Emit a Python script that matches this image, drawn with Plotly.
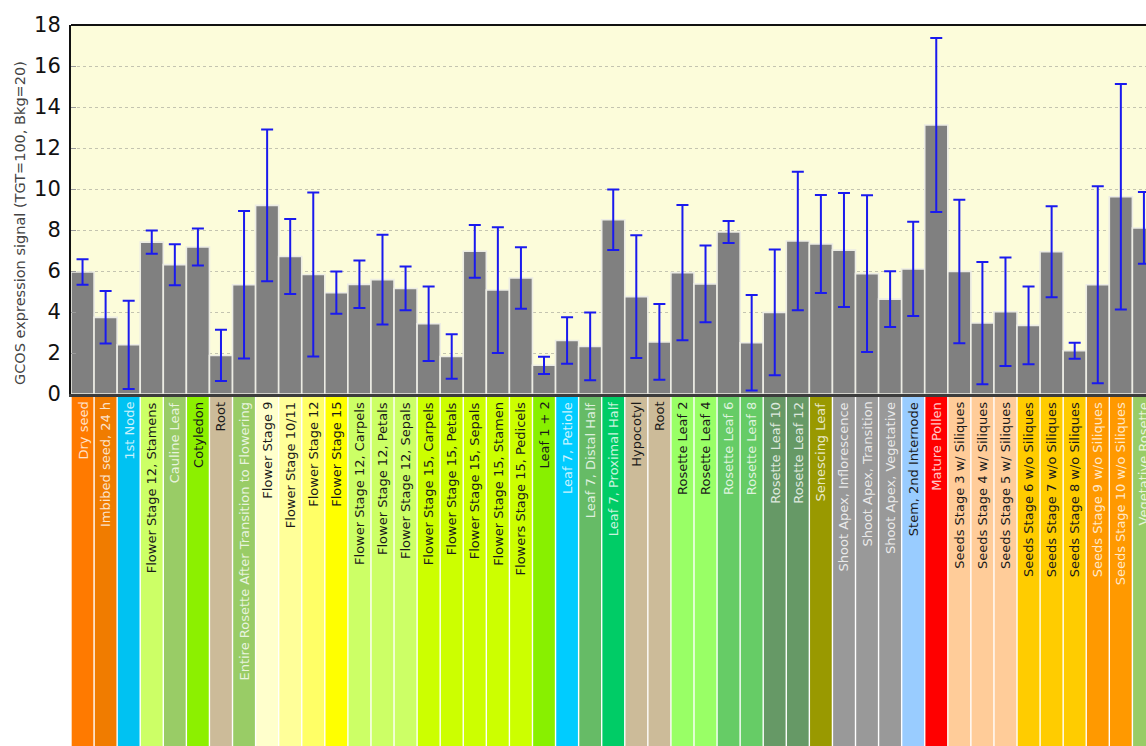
import plotly.graph_objects as go

categories = [
    "Dry seed", "Imbibed seed, 24 h", "1st Node", "Flower Stage 12, Stamens",
    "Cauline Leaf", "Cotyledon", "Root", "Entire Rosette After Transition to Flowering",
    "Flower Stage 9", "Flower Stage 10/11", "Flower Stage 12", "Flower Stage 15",
    "Flower Stage 12, Carpels", "Flower Stage 12, Petals", "Flower Stage 12, Sepals",
    "Flower Stage 15, Carpels", "Flower Stage 15, Petals", "Flower Stage 15, Sepals",
    "Flower Stage 15, Stamen", "Flowers Stage 15, Pedicels", "Leaf 1 + 2",
    "Leaf 7, Petiole", "Leaf 7, Distal Half", "Leaf 7, Proximal Half", "Hypocotyl",
    "Root", "Rosette Leaf 2", "Rosette Leaf 4", "Rosette Leaf 6", "Rosette Leaf 8",
    "Rosette Leaf 10", "Rosette Leaf 12", "Senescing Leaf", "Shoot Apex, Inflorescence",
    "Shoot Apex, Transition", "Shoot Apex, Vegetative", "Stem, 2nd Internode",
    "Mature Pollen", "Seeds Stage 3 w/ Siliques", "Seeds Stage 4 w/ Siliques",
    "Seeds Stage 5 w/ Siliques", "Seeds Stage 6 w/o Siliques", "Seeds Stage 7 w/o Siliques",
    "Seeds Stage 8 w/o Siliques", "Seeds Stage 9 w/o Siliques", "Seeds Stage 10 w/o Siliques",
    "Vegetative Rosette",
]

values = [
    5.95, 3.74, 2.40, 7.41, 6.31, 7.17, 1.88, 5.33, 9.20, 6.71, 5.83, 4.94,
    5.35, 5.58, 5.15, 3.43, 1.83, 6.96, 5.07, 5.66, 1.40, 2.61, 2.32, 8.50,
    4.75, 2.54, 5.92, 5.37, 7.90, 2.50, 3.98, 7.46, 7.32, 7.02, 5.87, 4.63,
    6.10, 13.12, 5.98, 3.46, 4.01, 3.35, 6.94, 2.11, 5.33, 9.62, 8.10,
]

errors = [
    0.62, 1.28, 2.15, 0.57, 1.00, 0.90, 1.25, 3.60, 3.70, 1.83, 4.00, 1.03,
    1.16, 2.19, 1.07, 1.82, 1.08, 1.29, 3.07, 1.50, 0.42, 1.13, 1.65, 1.48,
    2.99, 1.85, 3.30, 1.87, 0.54, 2.33, 3.07, 3.38, 2.39, 2.78, 3.82, 1.36,
    2.30, 4.24, 3.50, 2.98, 2.65, 1.90, 2.22, 0.39, 4.80, 5.50, 1.75,
]

strip_colors = [
    "#ff7a00", "#f07c00", "#00c2f2", "#ccff66", "#99cc66", "#8cf000", "#ccbb99",
    "#99cc66", "#ffffcc", "#ffff99", "#ffff66", "#ffff00", "#ccff66", "#ccff66",
    "#ccff66", "#ccff00", "#ccff00", "#ccff00", "#ccff00", "#ccff00", "#88f000",
    "#00ccff", "#66bb66", "#00cc66", "#ccbb99", "#ccbb99", "#99ff66", "#99ff66",
    "#66cc66", "#66cc66", "#669966", "#669966", "#999900", "#999999", "#999999",
    "#999999", "#99ccff", "#ff0000", "#ffcc99", "#ffcc99", "#ffcc99", "#ffcc00",
    "#ffcc00", "#ffcc00", "#ff9900", "#ff9900", "#99cc66",
]

light_text = [
    1, 1, 1, 0, 1, 0, 0, 1, 0, 0, 0, 0, 0, 0, 0, 0, 0, 0, 0, 0, 0,
    1, 1, 1, 0, 0, 0, 0, 1, 1, 1, 1, 1, 1, 1, 1, 0, 1, 0, 0, 0, 0,
    0, 0, 1, 1, 1,
]

y_ticks = [0, 2, 4, 6, 8, 10, 12, 14, 16, 18]
y_title = "GCOS expression signal (TGT=100, Bkg=20)"

W, H = 1146, 746
ML, MT, MB = 71, 25, 352
plot_h = H - MT - MB

xs = list(range(len(categories)))

fig = go.Figure()
fig.add_trace(go.Bar(
    x=xs, y=values,
    width=1.0,
    marker=dict(color="#808080", line=dict(color="#ecece4", width=1.6)),
    error_y=dict(type="data", array=errors, visible=True,
                 color="#1a1aee", thickness=2, width=6),
    hoverinfo="skip",
))

shapes = []
annotations = []
strip_top = -3 / plot_h
strip_bot = -(MB + 5) / plot_h
for i, (cat, col, lt) in enumerate(zip(categories, strip_colors, light_text)):
    shapes.append(dict(
        type="rect", xref="x", yref="paper",
        x0=i - 0.5 + 0.03, x1=i + 0.5 - 0.03, y0=strip_bot, y1=strip_top,
        fillcolor=col, line=dict(width=0), layer="above",
    ))
    annotations.append(dict(
        x=i, xref="x", y=strip_top - 3 / plot_h, yref="paper",
        text=cat, textangle=-90, showarrow=False,
        xanchor="center", yanchor="top",
        font=dict(family="DejaVu Sans", size=13,
                  color="rgba(255,255,255,0.8)" if lt else "#1a1a1a"),
    ))

# top border
shapes.append(dict(type="line", xref="paper", yref="paper",
                   x0=0, x1=1, y0=1, y1=1,
                   line=dict(color="#111111", width=2)))

annotations.append(dict(
    x=-(ML - 20) / (W - ML), xref="paper",
    y=(MT + plot_h - 223) / plot_h, yref="paper",
    text=y_title, textangle=-90, showarrow=False,
    xanchor="center", yanchor="middle",
    font=dict(family="DejaVu Sans", size=14.5, color="#444444"),
))

fig.update_layout(
    width=W, height=H, autosize=False,
    margin=dict(l=ML, r=0, t=MT, b=MB, pad=0),
    paper_bgcolor="white",
    plot_bgcolor="#fcfcda",
    showlegend=False,
    shapes=shapes,
    annotations=annotations,
    font=dict(family="DejaVu Sans"),
    xaxis=dict(
        range=[-0.5, 46.09], showticklabels=False, showgrid=False,
        zeroline=False, showline=True, linecolor="#3c3c3c", linewidth=3,
        ticks="", fixedrange=True,
    ),
    yaxis=dict(
        range=[0, 18], tickvals=y_ticks, showgrid=True,
        gridcolor="#c4c4b0", griddash="dot", gridwidth=1,
        zeroline=False, showline=True, linecolor="#111111", linewidth=2,
        ticks="inside", ticklen=5, tickcolor="#999999",
        tickfont=dict(family="DejaVu Sans", size=21, color="#111111"),
        ticklabelstandoff=4,
    ),
)

fig.write_html(
    "out.html",
    config={"displayModeBar": False},
    post_script=(
        "document.body.style.margin='0';"
        "document.documentElement.style.overflow='hidden';"
        "document.body.style.overflow='hidden';"
    ),
)
